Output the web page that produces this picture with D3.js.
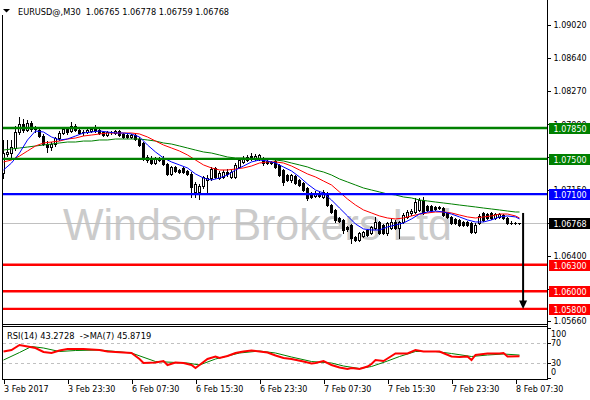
<!DOCTYPE html>
<html><head><meta charset="utf-8">
<script src="https://cdn.jsdelivr.net/npm/d3@7"></script>
<style>
body{margin:0;background:#fff}
svg{display:block;font-family:"DejaVu Sans",sans-serif}
</style>
</head><body>
<svg id="c" width="590" height="400"></svg>
<script>
// ---------- DATA ----------
const symbol = "EURUSD@,M30";
const open = [
1.07340,1.07555,1.07566,1.07623,1.07804,1.07895,1.07827,1.07906,1.07838,1.07827,
1.07759,1.07668,1.07634,1.07668,1.07736,1.07793,1.07838,1.07816,1.07872,1.07827,
1.07804,1.07804,1.07816,1.07838,1.07827,1.07804,1.07770,1.07804,1.07793,1.07816,
1.07782,1.07770,1.07748,1.07770,1.07725,1.07680,1.07521,1.07510,1.07453,1.07510,
1.07510,1.07442,1.07329,1.07408,1.07374,1.07397,1.07363,1.07329,1.07125,1.07125,
1.07193,1.07261,1.07283,1.07397,1.07283,1.07295,1.07351,1.07295,1.07295,1.07408,
1.07465,1.07487,1.07532,1.07498,1.07498,1.07510,1.07476,1.07465,1.07476,1.07431,
1.07374,1.07317,1.07261,1.07306,1.07261,1.07227,1.07170,1.07113,1.07079,1.07113,
1.07068,1.07113,1.06977,1.06921,1.06830,1.06808,1.06728,1.06751,1.06615,1.06581,
1.06626,1.06694,1.06660,1.06717,1.06785,1.06751,1.06660,1.06717,1.06785,1.06717,
1.06785,1.06842,1.06887,1.06898,1.06921,1.07034,1.06966,1.06966,1.06955,1.06955,
1.06943,1.06887,1.06842,1.06819,1.06808,1.06785,1.06785,1.06774,1.06672,1.06774,
1.06887,1.06875,1.06887,1.06830,1.06842,1.06864,1.06830,1.06772,1.06770,1.06765];
const high = [
1.07714,1.07714,1.07714,1.07872,1.07974,1.07952,1.07940,1.07929,1.07872,1.07850,
1.07782,1.07702,1.07691,1.07748,1.07816,1.07861,1.07861,1.07918,1.07895,1.07861,
1.07827,1.07838,1.07861,1.07884,1.07850,1.07816,1.07816,1.07816,1.07827,1.07827,
1.07793,1.07782,1.07782,1.07782,1.07748,1.07691,1.07544,1.07532,1.07521,1.07521,
1.07532,1.07453,1.07419,1.07419,1.07385,1.07408,1.07374,1.07351,1.07238,1.07215,
1.07306,1.07317,1.07408,1.07408,1.07363,1.07374,1.07385,1.07374,1.07453,1.07510,
1.07532,1.07544,1.07566,1.07555,1.07555,1.07521,1.07498,1.07476,1.07487,1.07442,
1.07385,1.07329,1.07329,1.07317,1.07272,1.07238,1.07181,1.07125,1.07136,1.07125,
1.07147,1.07125,1.06989,1.06932,1.06842,1.06819,1.06740,1.06762,1.06626,1.06672,
1.06683,1.06706,1.06740,1.06842,1.06796,1.06762,1.06785,1.06819,1.06808,1.06796,
1.06887,1.06921,1.06932,1.07057,1.07057,1.07068,1.06977,1.06977,1.06966,1.06966,
1.06955,1.06898,1.06853,1.06830,1.06819,1.06796,1.06796,1.06785,1.06774,1.06875,
1.06898,1.06887,1.06898,1.06887,1.06887,1.06875,1.06842,1.06796,1.06785,1.06778];
const low = [
1.07283,1.07532,1.07510,1.07600,1.07782,1.07804,1.07816,1.07816,1.07804,1.07748,
1.07657,1.07578,1.07600,1.07646,1.07714,1.07782,1.07782,1.07804,1.07816,1.07782,
1.07770,1.07793,1.07804,1.07804,1.07782,1.07759,1.07759,1.07782,1.07782,1.07759,
1.07736,1.07736,1.07736,1.07714,1.07646,1.07487,1.07465,1.07442,1.07442,1.07476,
1.07431,1.07317,1.07317,1.07351,1.07340,1.07340,1.07317,1.07068,1.07068,1.07045,
1.07170,1.07125,1.07261,1.07283,1.07272,1.07283,1.07306,1.07283,1.07283,1.07397,
1.07453,1.07476,1.07487,1.07487,1.07487,1.07431,1.07442,1.07442,1.07397,1.07306,
1.07204,1.07249,1.07238,1.07215,1.07193,1.07136,1.07034,1.07057,1.07068,1.07068,
1.07057,1.06966,1.06887,1.06785,1.06785,1.06660,1.06683,1.06547,1.06570,1.06570,
1.06615,1.06626,1.06649,1.06706,1.06649,1.06649,1.06638,1.06706,1.06706,1.06604,
1.06774,1.06830,1.06864,1.06887,1.06909,1.06875,1.06909,1.06909,1.06921,1.06932,
1.06853,1.06830,1.06762,1.06762,1.06740,1.06740,1.06740,1.06660,1.06660,1.06762,
1.06796,1.06819,1.06819,1.06819,1.06830,1.06819,1.06762,1.06762,1.06762,1.06759];
const close = [
1.07566,1.07578,1.07634,1.07804,1.07895,1.07827,1.07906,1.07838,1.07827,1.07759,
1.07668,1.07634,1.07668,1.07736,1.07793,1.07838,1.07804,1.07872,1.07827,1.07793,
1.07793,1.07827,1.07838,1.07816,1.07793,1.07770,1.07804,1.07793,1.07816,1.07770,
1.07748,1.07748,1.07770,1.07725,1.07657,1.07510,1.07487,1.07453,1.07510,1.07487,
1.07442,1.07329,1.07408,1.07363,1.07351,1.07351,1.07329,1.07181,1.07215,1.07193,
1.07295,1.07283,1.07385,1.07295,1.07340,1.07351,1.07329,1.07351,1.07431,1.07487,
1.07510,1.07521,1.07510,1.07532,1.07544,1.07453,1.07453,1.07453,1.07408,1.07317,
1.07238,1.07261,1.07317,1.07227,1.07204,1.07147,1.07057,1.07068,1.07113,1.07079,
1.07125,1.06977,1.06898,1.06808,1.06796,1.06694,1.06706,1.06604,1.06581,1.06660,
1.06672,1.06638,1.06728,1.06785,1.06660,1.06660,1.06774,1.06785,1.06717,1.06785,
1.06864,1.06898,1.06909,1.07011,1.07034,1.06887,1.06921,1.06921,1.06932,1.06943,
1.06864,1.06842,1.06774,1.06774,1.06751,1.06751,1.06751,1.06672,1.06751,1.06853,
1.06808,1.06830,1.06830,1.06875,1.06875,1.06830,1.06774,1.06774,1.06765,1.06768];

const maIdx = [0,2,4,6,8,10,12,14,16,18,20,22,24,26,28,30,32,34,36,38,40,42,44,46,48,50,52,54,56,58,60,62,64,66,68,70,72,74,76,78,80,82,84,86,88,90,92,94,96,98,100,102,104,106,108,110,112,114,116,118,120,122,124,126,128,129];
const maFast = [
1.07374,1.07453,1.07566,1.07714,1.07816,1.07804,1.07748,1.07714,1.07725,1.07759,
1.07793,1.07804,1.07816,1.07804,1.07793,1.07793,1.07782,1.07748,1.07657,1.07578,
1.07510,1.07465,1.07431,1.07397,1.07329,1.07283,1.07261,1.07283,1.07317,1.07374,
1.07419,1.07465,1.07487,1.07476,1.07453,1.07408,1.07363,1.07295,1.07215,1.07147,
1.07113,1.07034,1.06943,1.06853,1.06762,1.06706,1.06694,1.06694,1.06728,1.06751,
1.06774,1.06819,1.06875,1.06898,1.06909,1.06898,1.06875,1.06842,1.06808,1.06785,
1.06785,1.06808,1.06842,1.06853,1.06842,1.06819];
const maMid = [
1.07465,1.07487,1.07532,1.07589,1.07646,1.07680,1.07691,1.07702,1.07725,1.07736,
1.07759,1.07770,1.07782,1.07793,1.07793,1.07793,1.07793,1.07782,1.07748,1.07702,
1.07657,1.07623,1.07589,1.07544,1.07487,1.07431,1.07397,1.07374,1.07374,1.07385,
1.07397,1.07419,1.07453,1.07465,1.07465,1.07453,1.07419,1.07374,1.07329,1.07295,
1.07249,1.07204,1.07125,1.07045,1.06977,1.06921,1.06887,1.06853,1.06830,1.06819,
1.06830,1.06853,1.06875,1.06887,1.06898,1.06898,1.06887,1.06864,1.06842,1.06830,
1.06842,1.06853,1.06875,1.06875,1.06853,1.06830];
const maSlow = [
1.07600,1.07612,1.07623,1.07634,1.07646,1.07657,1.07668,1.07680,1.07691,1.07691,
1.07702,1.07702,1.07714,1.07714,1.07725,1.07725,1.07725,1.07725,1.07714,1.07702,
1.07680,1.07668,1.07646,1.07623,1.07600,1.07578,1.07566,1.07544,1.07521,1.07510,
1.07510,1.07498,1.07498,1.07498,1.07487,1.07476,1.07453,1.07431,1.07408,1.07374,
1.07351,1.07317,1.07272,1.07238,1.07204,1.07170,1.07147,1.07125,1.07102,1.07091,
1.07068,1.07057,1.07034,1.07023,1.07011,1.07000,1.06989,1.06977,1.06966,1.06955,
1.06943,1.06932,1.06921,1.06909,1.06898,1.06898];

// RSI(14) and its MA(7)
const rsiIdx = [0,2,4,6,8,10,12,14,16,20,24,26,28,32,34,35,38,40,41,43,45,47,48,49,51,53,54,56,58,60,62,64,66,68,70,72,75,77,78,80,82,84,86,87,89,91,92,93,95,96,98,101,103,105,109,112,114,116,117,118,121,124,125,126,129];
const rsiVal = [53,56,66,63,60,52,50,55,58,58,56,53,52,50,38,30,31,34,26,31,30,26,20,26,38,43,40,44,50,53,55,53,51,45,40,38,33,29,30,34,26,21,18,20,18,23,28,36,34,39,49,49,56,53,53,43,42,43,36,46,49,49,50,43,43.27];
const rsiMaIdx = [0,4,7,10,14,18,24,32,38,46,49,53,59,64,68,72,77,82,85,89,92,96,99,103,108,112,117,121,125,129];
const rsiMaVal = [36,51,63,60,53,55,56,50,33,30,26,38,50,54,50,42,33,30,24,19,23,34,43,53,53,49,43,46,48,45.87];
const rsiLevels = [70, 30];
const rsiAxisLabels = [100, 70, 30, 0];

// horizontal levels
const levelPrices = [1.0785, 1.0750, 1.0710, 1.0630, 1.0600, 1.0580];
const levelColors = ["#008000", "#008000", "#0000ff", "#ff0000", "#ff0000", "#ff0000"];
const currentPrice = 1.06768;

// axes (labels fully covered by the level boxes are not shown)
const priceTicks = [1.0902, 1.0864, 1.0827, 1.0789, 1.0752, 1.0715, 1.0677, 1.0640, 1.0603, 1.0566];
const hiddenTickLabels = [1.0752, 1.0677, 1.0603];
const timeTickIdx = [0, 16, 32, 48, 64, 80, 96, 112, 128];
const timeLabels = ["3 Feb 2017","3 Feb 23:30","6 Feb 07:30","6 Feb 15:30","6 Feb 23:30","7 Feb 07:30","7 Feb 15:30","7 Feb 23:30","8 Feb 07:30"];
const arrowBar = 129.9, arrowFrom = 1.06887, arrowTo = 1.0580;
const watermark = "Windsor Brokers Ltd";

// ---------- DRAW ----------
const svg = d3.select("#c");
const x = d3.scaleLinear().domain([0, 129]).range([3.5, 519.5]);
const y = d3.scaleLinear().domain([1.0563, 1.0930]).range([323.9, 0]);
const ry = d3.scaleLinear().domain([0, 100]).range([378, 328]);
const axisX = 547.5;

// watermark
svg.append("text").attr("x", 63).attr("y", 240)
  .attr("font-family", "'Liberation Sans', Arial, sans-serif").attr("font-size", 44)
  .attr("fill", "#cbcbcb").attr("textLength", 389).attr("lengthAdjust", "spacingAndGlyphs")
  .text(watermark);

// current price line
svg.append("line").attr("x1", 2.5).attr("x2", axisX).attr("y1", Math.round(y(currentPrice)) + 0.5).attr("y2", Math.round(y(currentPrice)) + 0.5)
  .attr("stroke", "#c0c0c0").attr("stroke-width", 1);

// candles
const candles = svg.append("g").attr("shape-rendering", "crispEdges");
d3.range(open.length).forEach(i => {
  const cx = x(i);
  candles.append("line").attr("x1", cx).attr("x2", cx).attr("y1", y(high[i])).attr("y2", y(low[i]) + 1)
    .attr("stroke", "#000").attr("stroke-width", 1);
  const top = y(Math.max(open[i], close[i])), bot = y(Math.min(open[i], close[i]));
  if (bot - top < 1) {
    candles.append("line").attr("x1", cx - 1.5).attr("x2", cx + 1.5).attr("y1", Math.round(top) + 0.5).attr("y2", Math.round(top) + 0.5)
      .attr("stroke", "#000");
  } else {
    candles.append("rect").attr("x", cx - 1).attr("width", 2)
      .attr("y", Math.round(top) + 0.5).attr("height", Math.max(1, Math.round(bot) - Math.round(top)))
      .attr("fill", close[i] > open[i] ? "#fff" : "#000").attr("stroke", "#000").attr("stroke-width", 1);
  }
});

// moving averages
const lineP = d3.line().x(d => x(d[0])).y(d => y(d[1]));
[[maSlow, "#008000"], [maMid, "#ff0000"], [maFast, "#0000ff"]].forEach(([arr, col]) => {
  svg.append("path").datum(maIdx.map((d, k) => [d, arr[k]])).attr("d", lineP)
    .attr("fill", "none").attr("stroke", col).attr("stroke-width", 1);
});

// horizontal levels
levelPrices.forEach((p, k) => {
  svg.append("line").attr("x1", 2.5).attr("x2", axisX).attr("y1", y(p)).attr("y2", y(p))
    .attr("stroke", levelColors[k]).attr("stroke-width", 2.4);
});

// arrow
svg.append("line").attr("x1", x(arrowBar)).attr("x2", x(arrowBar)).attr("y1", y(arrowFrom)).attr("y2", y(arrowTo) - 7)
  .attr("stroke", "#000").attr("stroke-width", 2);
{
  const ax = x(arrowBar), ay = y(arrowTo);
  svg.append("path").attr("d", `M${ax - 4},${ay - 8.5}L${ax + 4},${ay - 8.5}L${ax},${ay}Z`).attr("fill", "#000");
}

// frame
const frame = svg.append("g").attr("stroke", "#000").attr("stroke-width", 1).attr("shape-rendering", "crispEdges");
frame.append("line").attr("x1", axisX).attr("x2", axisX).attr("y1", 0).attr("y2", 380);
frame.append("line").attr("x1", 2.5).attr("x2", 2.5).attr("y1", 15).attr("y2", 380);
frame.append("line").attr("x1", 2.5).attr("x2", axisX).attr("y1", 324.5).attr("y2", 324.5);
frame.append("line").attr("x1", 2.5).attr("x2", axisX).attr("y1", 326.5).attr("y2", 326.5);
frame.append("line").attr("x1", 2.5).attr("x2", axisX).attr("y1", 379.5).attr("y2", 379.5);

// price axis
const pAxis = svg.append("g").attr("transform", `translate(${axisX},0)`)
  .call(d3.axisRight(y).tickValues(priceTicks).tickSize(3).tickPadding(3)
    .tickFormat(d => hiddenTickLabels.includes(d) ? "" : d3.format(".5f")(d)));
pAxis.select(".domain").remove();
pAxis.selectAll("text").attr("font-size", 8).attr("font-family", "DejaVu Sans").attr("fill", "#000");
pAxis.selectAll("line").attr("shape-rendering", "crispEdges");

// level boxes
function box(p, col) {
  const yy = y(p);
  svg.append("rect").attr("x", 549).attr("y", Math.round(yy) - 5).attr("width", 41).attr("height", 11).attr("fill", col);
  svg.append("text").attr("x", 553.5).attr("y", Math.round(yy) + 3.5).attr("font-size", 8).attr("fill", "#fff").text(d3.format(".5f")(p));
}
levelPrices.forEach((p, k) => box(p, levelColors[k]));
box(currentPrice, "#000");

// RSI panel
svg.append("g").selectAll("line").data(rsiLevels).join("line")
  .attr("x1", 3).attr("x2", axisX).attr("y1", d => ry(d) + 0.5).attr("y2", d => ry(d) + 0.5)
  .attr("stroke", "#c0c0c0").attr("stroke-dasharray", "3,3").attr("shape-rendering", "crispEdges");
const rLine = d3.line().x(d => x(d[0])).y(d => ry(d[1]));
svg.append("path").datum(rsiMaIdx.map((d, k) => [d, rsiMaVal[k]])).attr("d", rLine)
  .attr("fill", "none").attr("stroke", "#008000").attr("stroke-width", 1);
svg.append("path").datum(rsiIdx.map((d, k) => [d, rsiVal[k]])).attr("d", rLine)
  .attr("fill", "none").attr("stroke", "#ff0000").attr("stroke-width", 2);

svg.append("text").attr("x", 7).attr("y", 339).attr("font-size", 8.3).style("white-space", "pre")
  .text("RSI(14) 43.2728  ->MA(7) 45.8719");

const ra = svg.append("g");
rsiAxisLabels.forEach(v => {
  const yy = Math.min(372, Math.max(334, ry(v)));
  ra.append("line").attr("x1", axisX).attr("x2", axisX + 3).attr("y1", Math.round(ry(v)) + 0.5).attr("y2", Math.round(ry(v)) + 0.5)
    .attr("stroke", "#000").attr("shape-rendering", "crispEdges");
  ra.append("text").attr("x", 551).attr("y", yy + 3).attr("font-size", 8).text(v);
});

// time axis
const tAxis = svg.append("g").attr("transform", "translate(0,379.5)")
  .call(d3.axisBottom(x).tickValues(timeTickIdx).tickSize(4).tickFormat((d, k) => timeLabels[k]));
tAxis.select(".domain").remove();
tAxis.selectAll("line").attr("shape-rendering", "crispEdges");
tAxis.selectAll("text").attr("font-size", 8).attr("font-family", "DejaVu Sans").attr("fill", "#000")
  .attr("text-anchor", "start").attr("y", 12.5).attr("dy", 0);

// title
svg.append("rect").attr("x", 0).attr("y", 0).attr("width", 250).attr("height", 15).attr("fill", "#fff");
svg.append("path").attr("d", "M3,9L10,9L6.5,12.5Z").attr("fill", "#000");
const last = open.length - 1;
svg.append("text").attr("x", 18).attr("y", 15).attr("font-size", 8.2).style("white-space", "pre")
  .text(`${symbol}  ${open[last].toFixed(5)} ${high[last].toFixed(5)} ${low[last].toFixed(5)} ${close[last].toFixed(5)}`);
</script>
</body></html>
